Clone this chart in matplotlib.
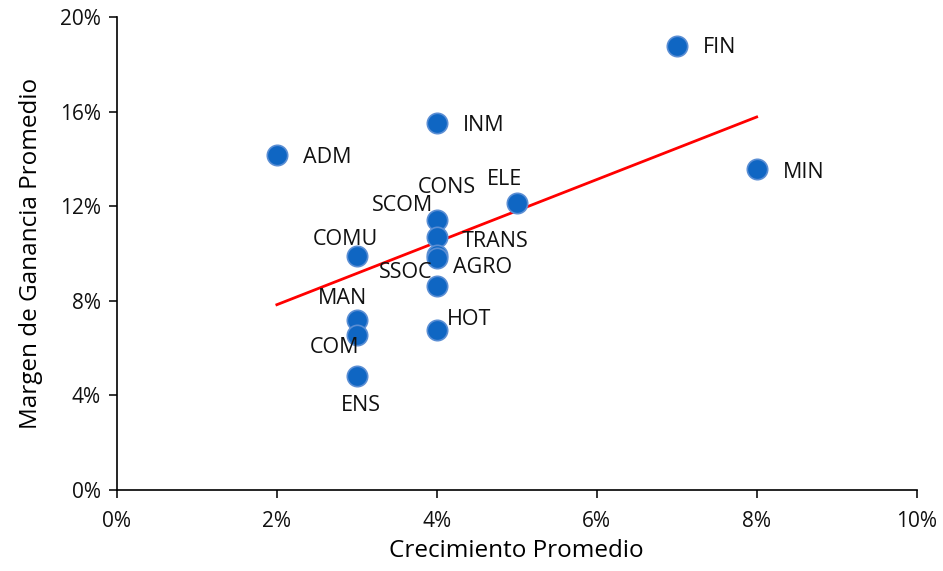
import numpy as np
import matplotlib
matplotlib.use("Agg")
from matplotlib import pyplot as plt
from matplotlib.ticker import FuncFormatter

# sector codes and values (in %)
sectors = ["FIN", "MIN", "INM", "ADM", "ELE", "CONS", "SCOM", "TRANS", "AGRO",
           "SSOC", "HOT", "COMU", "MAN", "COM", "ENS"]
growth = [7, 8, 4, 2, 5, 4, 4, 4, 4, 4, 4, 3, 3, 3, 3]
margin = [18.77, 13.57, 15.52, 14.16, 12.14, 11.42, 10.70, 9.94, 9.81,
          8.63, 6.77, 9.89, 7.19, 6.55, 4.82]

# label offsets in pixels (dx, dy, horizontal alignment)
label_pos = {
    "FIN": (26, -1, "left"), "MIN": (26, -3, "left"), "INM": (26, -2, "left"),
    "ADM": (26, -2, "left"), "ELE": (-12, 23, "center"), "CONS": (10, 32, "center"),
    "SCOM": (-34, 31, "center"), "TRANS": (25, 13, "left"), "AGRO": (16, -9, "left"),
    "SSOC": (-31, 13, "center"), "HOT": (10, 10, "left"), "COMU": (-11, 17, "center"),
    "MAN": (-14, 21, "center"), "COM": (-22, -12, "center"), "ENS": (4, -30, "center"),
}

plt.rcParams['font.family'] = ['Open Sans', 'DejaVu Sans']

fig = plt.figure(figsize=(9.43, 5.71), dpi=100)
ax = fig.add_axes([0.124, 0.142, 0.848, 0.828])

ax.scatter(growth, margin, s=215, color="#0F66C3", edgecolor="#5A8ED4",
           linewidth=1.2, zorder=3)

# linear trend
k, b = np.polyfit(growth, margin, 1)
xs = np.array([min(growth), max(growth)])
ax.plot(xs, k * xs + b, color="#FF0000", lw=2, zorder=2)

for name, x, y in zip(sectors, growth, margin):
    dx, dy, ha = label_pos[name]
    ax.annotate(name, (x, y), xytext=(dx, dy), textcoords="offset pixels",
                ha=ha, va="center", fontsize=15.5, color="#111111", zorder=4)

ax.set_xlim(0, 10)
ax.set_ylim(0, 20)
ax.set_xticks(range(0, 11, 2))
ax.set_yticks(range(0, 21, 4))
pct = FuncFormatter(lambda v, p: f"{v:.0f}%")
ax.xaxis.set_major_formatter(pct)
ax.yaxis.set_major_formatter(pct)
ax.tick_params(labelsize=15, length=5.5, width=1.2, colors="#111111")
ax.tick_params(axis="x", pad=10)
ax.tick_params(axis="y", pad=6)

for s in ["top", "right"]:
    ax.spines[s].set_visible(False)
for s in ["left", "bottom"]:
    ax.spines[s].set_linewidth(1.2)

ax.set_xlabel("Crecimiento Promedio", fontsize=17.5, labelpad=5)
ax.set_ylabel("Margen de Ganancia Promedio", fontsize=17.5, labelpad=12)

fig.savefig("out.png", dpi=100)
